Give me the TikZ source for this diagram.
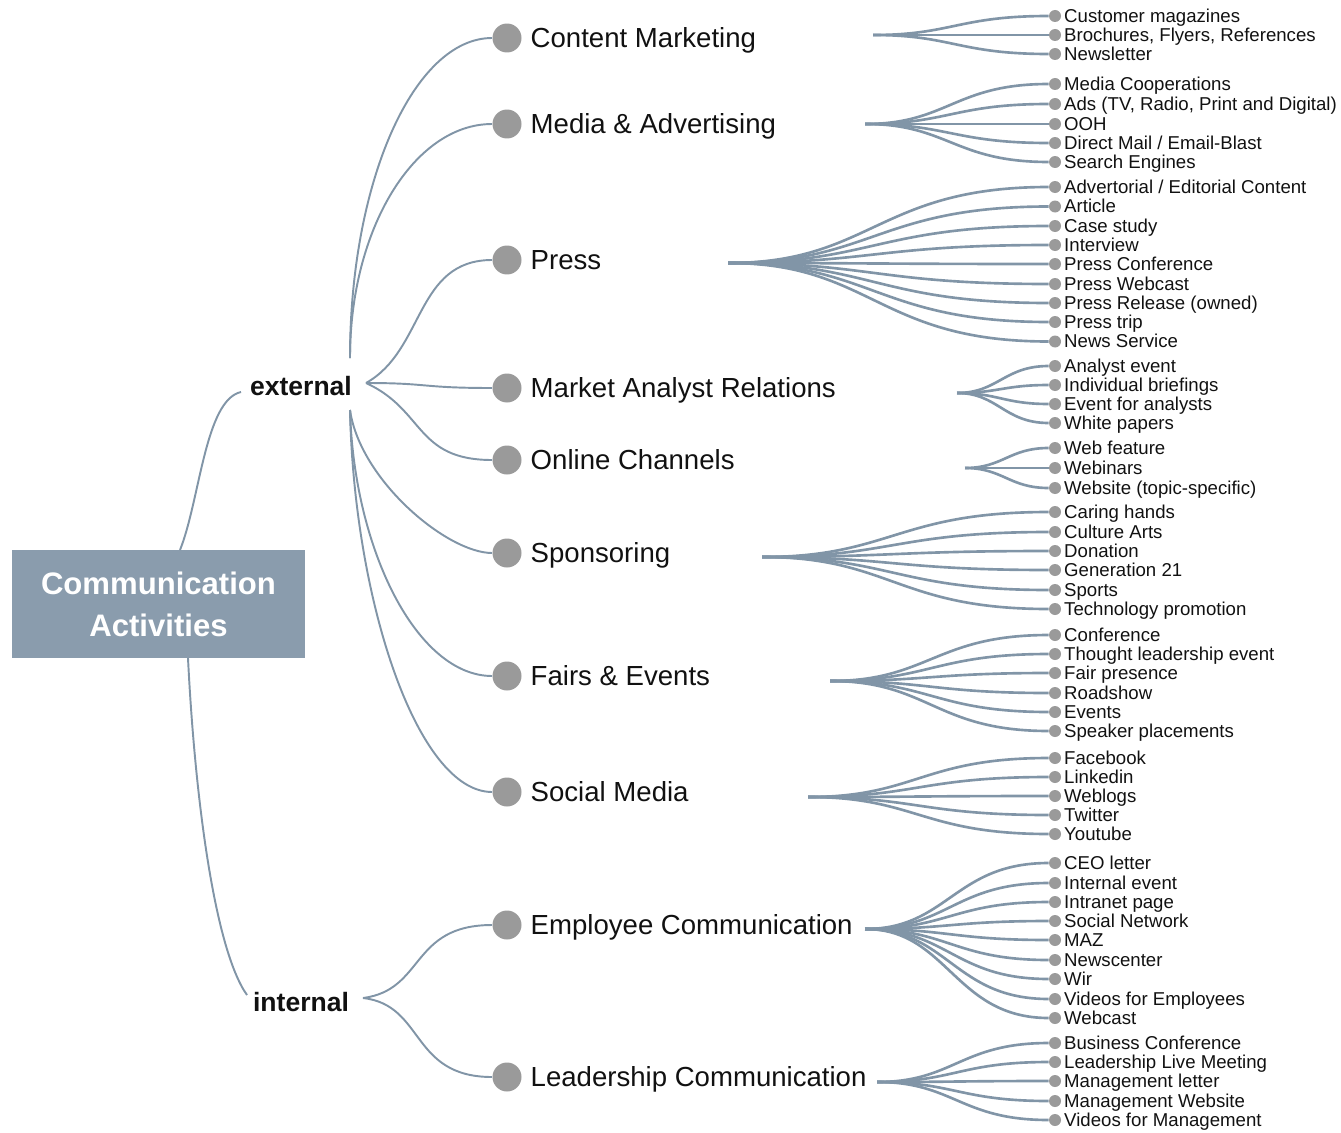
\documentclass[tikz,border=0pt]{standalone}
\usepackage{fontspec}
\setmainfont{Liberation Sans}
\usepackage{tikz}
\usetikzlibrary{positioning}
\definecolor{RootFill}{HTML}{8A9CAD}
\definecolor{LinkBlue}{HTML}{8195A7}
\definecolor{DotGray}{HTML}{9A9A9A}
\definecolor{TextDark}{HTML}{111111}

\begin{document}
\begin{tikzpicture}[
  x=0.02cm, y=-0.02cm,
  root/.style={fill=RootFill, text=white, font=\fontsize{17.7}{23.8}\selectfont\bfseries, align=center, minimum width=5.86cm, minimum height=2.16cm, inner sep=0pt},
  branch/.style={font=\fontsize{15.1}{18}\selectfont\bfseries, text=TextDark, inner sep=0pt},
  catdot/.style={circle, fill=DotGray, minimum size=0.58cm, inner sep=0pt},
  cattext/.style={font=\fontsize{15.7}{18}\selectfont, text=TextDark, inner sep=0pt, text height=0.9em, text depth=0.2em, yshift=-1.8pt},
  leafdot/.style={circle, fill=DotGray, minimum size=0.24cm, inner sep=0pt},
  leaftext/.style={font=\fontsize{10.6}{12}\selectfont, text=TextDark, inner sep=0pt, text height=0.9em, text depth=0.2em},
  link/.style={draw=LinkBlue, line width=1.1pt},
  fan/.style={draw=LinkBlue, line width=1.5pt}
]
  \useasboundingbox (0,0) rectangle (1341,1132);

  % root and the two branches
  \node[root] (root) at (158.5,604) {Communication\\Activities};
  \node[branch] (ext) at (301,386) {external};
  \node[branch] (int) at (301,1002) {internal};

  \coordinate (root-up) at (180,550);
  \coordinate (root-down) at (188,658);
  \coordinate (ext-in) at (241,392);
  \coordinate (int-in) at (247,995);
  \coordinate (ext-up) at (350,358);
  \coordinate (ext-mid) at (366,383);
  \coordinate (ext-down) at (350,410);
  \coordinate (int-out) at (363,998);

  \draw[link] (root-up) .. controls (200,500) and (205,400) .. (ext-in);
  \draw[link] (root-down) .. controls (195,800) and (215,950) .. (int-in);

  % categories
  \node[catdot] (cm) at (507,38) {};
  \node[catdot] (ma) at (507,124) {};
  \node[catdot] (pr) at (507,260) {};
  \node[catdot] (mar) at (507,388) {};
  \node[catdot] (oc) at (507,460) {};
  \node[catdot] (sp) at (507,553) {};
  \node[catdot] (fe) at (507,676) {};
  \node[catdot] (sm) at (507,792) {};
  \node[catdot] (ec) at (507,925) {};
  \node[catdot] (lc) at (507,1077) {};

  \node[cattext, right=1.7mm of cm] (cm-t) {Content Marketing};
  \node[cattext, right=1.7mm of ma] (ma-t) {Media \& Advertising};
  \node[cattext, right=1.7mm of pr] (pr-t) {Press};
  \node[cattext, right=1.7mm of mar] (mar-t) {Market Analyst Relations};
  \node[cattext, right=1.7mm of oc] (oc-t) {Online Channels};
  \node[cattext, right=1.7mm of sp] (sp-t) {Sponsoring};
  \node[cattext, right=1.7mm of fe] (fe-t) {Fairs \& Events};
  \node[cattext, right=1.7mm of sm] (sm-t) {Social Media};
  \node[cattext, right=1.7mm of ec] (ec-t) {Employee Communication};
  \node[cattext, right=1.7mm of lc] (lc-t) {Leadership Communication};

  \draw[link] (ext-up) .. controls +(0,-177) and +(-93,0) .. (cm);
  \draw[link] (ext-up) .. controls +(0,-129) and +(-93,0) .. (ma);
  \draw[link] (ext-mid) .. controls (425,350) and (415,260) .. (pr);
  \draw[link] (ext-mid) .. controls (430,383) and (420,388) .. (mar);
  \draw[link] (ext-mid) .. controls (425,410) and (415,460) .. (oc);
  \draw[link] (ext-down) .. controls +(10,70) and +(-60,0) .. (sp);
  \draw[link] (ext-down) .. controls +(4,140) and +(-90,0) .. (fe);
  \draw[link] (ext-down) .. controls +(4,190) and +(-90,0) .. (sm);
  \draw[link] (int-out) .. controls (425,990) and (410,925) .. (ec);
  \draw[link] (int-out) .. controls (425,1005) and (410,1077) .. (lc);

  % leaves
  \coordinate (cm-fan) at (873,35);
  \foreach \y/\lbl [count=\i] in {16/Customer magazines, 35/{Brochures, Flyers, References}, 54/Newsletter}{
    \node[leafdot] (cm-\i) at (1055,\y) {};
    \node[leaftext, right=0.5mm of cm-\i] (cm-t\i) {\lbl};
    \draw[fan] (cm-fan) .. controls +(79,0) and +(-97,0) .. (cm-\i);
  }

  \coordinate (ma-fan) at (865,124);
  \foreach \y/\lbl [count=\i] in {84/Media Cooperations, 104/{Ads (TV, Radio, Print and Digital)}, 124/OOH, 143/{Direct Mail / Email-Blast}, 162/Search Engines}{
    \node[leafdot] (ma-\i) at (1055,\y) {};
    \node[leaftext, right=0.5mm of ma-\i] (ma-t\i) {\lbl};
    \draw[fan] (ma-fan) .. controls +(83,0) and +(-101,0) .. (ma-\i);
  }

  \coordinate (pr-fan) at (728,263);
  \foreach \y/\lbl [count=\i] in {187/{Advertorial / Editorial Content}, 206.5/Article, 226/Case study, 245/Interview, 264/Press Conference, 284/Press Webcast, 303/Press Release (owned), 322/Press trip, 341.5/News Service}{
    \node[leafdot] (pr-\i) at (1055,\y) {};
    \node[leaftext, right=0.5mm of pr-\i] (pr-t\i) {\lbl};
    \draw[fan] (pr-fan) .. controls +(144,0) and +(-177,0) .. (pr-\i);
  }

  \coordinate (mar-fan) at (957,393);
  \foreach \y/\lbl [count=\i] in {366/Analyst event, 385/Individual briefings, 404/Event for analysts, 423/White papers}{
    \node[leafdot] (mar-\i) at (1055,\y) {};
    \node[leaftext, right=0.5mm of mar-\i] (mar-t\i) {\lbl};
    \draw[fan] (mar-fan) .. controls +(41,0) and +(-51,0) .. (mar-\i);
  }

  \coordinate (oc-fan) at (965,468);
  \foreach \y/\lbl [count=\i] in {448/Web feature, 468/Webinars, 488/Website (topic-specific)}{
    \node[leafdot] (oc-\i) at (1055,\y) {};
    \node[leaftext, right=0.5mm of oc-\i] (oc-t\i) {\lbl};
    \draw[fan] (oc-fan) .. controls +(38,0) and +(-46,0) .. (oc-\i);
  }

  \coordinate (sp-fan) at (762,557);
  \foreach \y/\lbl [count=\i] in {512/Caring hands, 532/Culture Arts, 551/Donation, 570/Generation 21, 590/Sports, 609/Technology promotion}{
    \node[leafdot] (sp-\i) at (1055,\y) {};
    \node[leaftext, right=0.5mm of sp-\i] (sp-t\i) {\lbl};
    \draw[fan] (sp-fan) .. controls +(129,0) and +(-158,0) .. (sp-\i);
  }

  \coordinate (fe-fan) at (830,681);
  \foreach \y/\lbl [count=\i] in {635/Conference, 654/Thought leadership event, 673/Fair presence, 693/Roadshow, 712/Events, 731/Speaker placements}{
    \node[leafdot] (fe-\i) at (1055,\y) {};
    \node[leaftext, right=0.5mm of fe-\i] (fe-t\i) {\lbl};
    \draw[fan] (fe-fan) .. controls +(99,0) and +(-120,0) .. (fe-\i);
  }

  \coordinate (sm-fan) at (808,797);
  \foreach \y/\lbl [count=\i] in {758/Facebook, 777/Linkedin, 796/Weblogs, 815/Twitter, 834/Youtube}{
    \node[leafdot] (sm-\i) at (1055,\y) {};
    \node[leaftext, right=0.5mm of sm-\i] (sm-t\i) {\lbl};
    \draw[fan] (sm-fan) .. controls +(108,0) and +(-133,0) .. (sm-\i);
  }

  \coordinate (ec-fan) at (865,929);
  \foreach \y/\lbl [count=\i] in {863/CEO letter, 883/Internal event, 902/Intranet page, 921/Social Network, 940/MAZ, 960/Newscenter, 979/Wir, 999/Videos for Employees, 1018/Webcast}{
    \node[leafdot] (ec-\i) at (1055,\y) {};
    \node[leaftext, right=0.5mm of ec-\i] (ec-t\i) {\lbl};
    \draw[fan] (ec-fan) .. controls +(83,0) and +(-101,0) .. (ec-\i);
  }

  \coordinate (lc-fan) at (877,1082);
  \foreach \y/\lbl [count=\i] in {1043/Business Conference, 1062/Leadership Live Meeting, 1081/Management letter, 1101/Management Website, 1120/Videos for Management}{
    \node[leafdot] (lc-\i) at (1055,\y) {};
    \node[leaftext, right=0.5mm of lc-\i] (lc-t\i) {\lbl};
    \draw[fan] (lc-fan) .. controls +(77,0) and +(-95,0) .. (lc-\i);
  }
\end{tikzpicture}
\end{document}
